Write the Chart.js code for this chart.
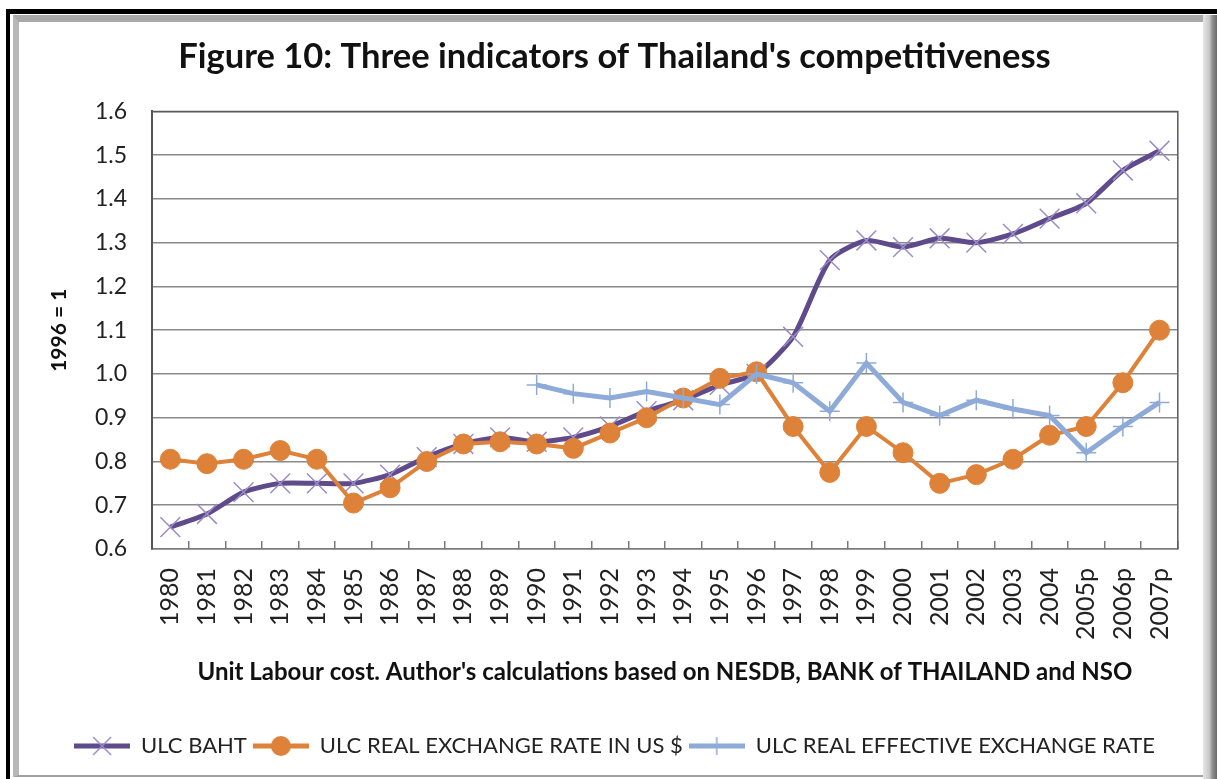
<!DOCTYPE html>
<html>
<head>
<meta charset="utf-8">
<script src="https://cdn.jsdelivr.net/npm/chart.js@4"></script>
<style>
html,body{margin:0;padding:0;background:#fff;width:1217px;height:779px;overflow:hidden;}
#frameBlack{position:absolute;left:6px;top:9px;width:1211px;height:770px;border-left:4px solid #000;border-top:5px solid #000;box-sizing:border-box;}
#bevel{position:absolute;left:13px;top:15px;width:1192px;height:762px;box-sizing:border-box;border-top:7px solid #a9a9a9;border-left:6px solid #b8b8b8;border-bottom:2px solid #a0a0a0;}
#rightStrip{position:absolute;left:1203px;top:15px;width:14px;height:764px;background:linear-gradient(to right,#e6e6e6 0%,#c8c8c8 45%,#8a8a8a 70%,#6a6a6a 100%);}
#wrap{position:absolute;left:0;top:0;width:1217px;height:779px;}
</style>
</head>
<body>
<div id="frameBlack"></div>
<div id="bevel"></div>
<div id="rightStrip"></div>
<div id="wrap"><canvas id="c" width="1217" height="779"></canvas></div>
<script>
const categories = ['1980','1981','1982','1983','1984','1985','1986','1987','1988','1989','1990','1991','1992','1993','1994','1995','1996','1997','1998','1999','2000','2001','2002','2003','2004','2005p','2006p','2007p'];
const ulcBaht = [0.65,0.68,0.73,0.75,0.75,0.75,0.77,0.81,0.84,0.855,0.845,0.855,0.88,0.915,0.94,0.975,1.0,1.085,1.26,1.305,1.29,1.31,1.30,1.32,1.355,1.39,1.465,1.51];
const ulcRealUsd = [0.805,0.795,0.805,0.825,0.805,0.705,0.74,0.80,0.84,0.845,0.84,0.83,0.865,0.90,0.945,0.99,1.005,0.88,0.775,0.88,0.82,0.75,0.77,0.805,0.86,0.88,0.98,1.10];
const ulcReer = [null,null,null,null,null,null,null,null,null,null,0.975,0.955,0.945,0.96,0.945,0.93,1.0,0.98,0.915,1.025,0.935,0.905,0.94,0.92,0.905,0.82,0.88,0.935];
const seriesNames = ['ULC BAHT','ULC REAL EXCHANGE RATE IN US $','ULC REAL EFFECTIVE EXCHANGE RATE'];
const yTicks = [0.6,0.7,0.8,0.9,1.0,1.1,1.2,1.3,1.4,1.5,1.6];
const titleText = "Figure 10: Three indicators of Thailand's competitiveness";
const xTitleText = "Unit Labour cost. Author's calculations based on NESDB, BANK of THAILAND and NSO";
const yTitleText = '1996 = 1';

const PURPLE = '#5f4a8b', PURPLE_M = '#9a8cc6';
const ORANGE = '#de8139';
const BLUE = '#8eaad8';
const FONT = 'Lato, "DejaVu Sans", sans-serif';

function legendImage(lineColor, lineW, style, markColor, r, mw){
  const cv = document.createElement('canvas');
  cv.width = 56; cv.height = 26;
  const g = cv.getContext('2d');
  g.strokeStyle = lineColor; g.lineWidth = lineW; g.lineCap='butt';
  g.beginPath(); g.moveTo(0,13); g.lineTo(56,13); g.stroke();
  g.strokeStyle = markColor; g.fillStyle = markColor; g.lineWidth = mw;
  if (style==='x'){ g.beginPath(); g.moveTo(28-r,13-r); g.lineTo(28+r,13+r); g.moveTo(28-r,13+r); g.lineTo(28+r,13-r); g.stroke(); }
  else if (style==='+'){ g.beginPath(); g.moveTo(28-r,13); g.lineTo(28+r,13); g.moveTo(28,13-r); g.lineTo(28,13+r); g.stroke(); }
  else { g.beginPath(); g.arc(28,13,r,0,Math.PI*2); g.fill(); }
  return cv;
}
const legendImgs = [
  legendImage(PURPLE,5,'x',PURPLE_M,9,1.5),
  legendImage(ORANGE,5,'o',ORANGE,10,1),
  legendImage(BLUE,5,'+',BLUE,9,1.5)
];

const plotBorder = {
  id:'plotBorder',
  beforeDatasetsDraw(chart){
    const {ctx, chartArea:a} = chart;
    ctx.save();
    ctx.strokeStyle = '#5a5a5a'; ctx.lineWidth = 1.5;
    ctx.beginPath();
    ctx.moveTo(a.left, a.top); ctx.lineTo(a.right, a.top); ctx.lineTo(a.right, a.bottom);
    ctx.stroke();
    ctx.restore();
  }
};

new Chart(document.getElementById('c'), {
  type:'line',
  data:{
    labels: categories,
    datasets:[
      {label:seriesNames[0], data:ulcBaht, borderColor:PURPLE, backgroundColor:PURPLE_M, borderWidth:5, tension:0.22,
       pointStyle:'crossRot', pointRadius:14, pointBorderColor:PURPLE_M, pointBorderWidth:1.5, pointHoverRadius:14, order:2},
      {label:seriesNames[1], data:ulcRealUsd, borderColor:ORANGE, backgroundColor:ORANGE, borderWidth:4, tension:0,
       pointStyle:'circle', pointRadius:10, pointBackgroundColor:ORANGE, pointBorderColor:ORANGE, pointBorderWidth:1, order:1},
      {label:seriesNames[2], data:ulcReer, borderColor:BLUE, backgroundColor:BLUE, borderWidth:5, tension:0,
       pointStyle:'cross', pointRadius:10, pointBorderColor:BLUE, pointBorderWidth:1.5, order:0, spanGaps:false}
    ]
  },
  options:{
    responsive:false, animation:false,
    layout:{padding:{left:40, right:28, top:0, bottom:12}},
    plugins:{
      tooltip:{enabled:false},
      title:{display:true, text:titleText, color:'#111', font:{family:FONT, size:34.5, weight:'bold'}, padding:{top:36, bottom:34}},
      legend:{
        display:true, position:'bottom',
        labels:{
          usePointStyle:true, pointStyleWidth:56, padding:6, color:'#222',
          font:{family:FONT, size:22},
          generateLabels(chart){
            return chart.data.datasets.map((d,i)=>({text:d.label, pointStyle:legendImgs[i], fillStyle:d.borderColor, strokeStyle:d.borderColor, lineWidth:0, hidden:false, datasetIndex:i, fontColor:'#222'}));
          }
        }
      }
    },
    scales:{
      x:{
        type:'category', offset:true,
        grid:{display:true, drawOnChartArea:false, offset:true, tickLength:-8, color:'#7a7a7a', lineWidth:1.5},
        border:{display:true, color:'#7a7a7a', width:1.5},
        ticks:{color:'#222', font:{family:FONT, size:25}, minRotation:90, maxRotation:90, padding:27, autoSkip:false},
        title:{display:true, text:xTitleText, color:'#111', font:{family:FONT, size:24, weight:'bold'}, padding:{top:0, bottom:42}},
        afterFit(s){ s.height = 180; }
      },
      y:{
        min:0.6, max:1.6,
        grid:{color:'#8a8a8a', lineWidth:1.5, drawTicks:false},
        border:{display:true, color:'#555', width:2},
        afterBuildTicks(s){ s.ticks = yTicks.map(v=>({value:v})); },
        ticks:{color:'#222', font:{family:FONT, size:23}, padding:25, callback:v=>Number(v).toFixed(1)},
        title:{display:true, text:yTitleText, color:'#111', font:{family:FONT, size:21, weight:'bold'}, padding:{top:7, bottom:0}},
        afterFit(s){ s.width = 112; }
      }
    }
  },
  plugins:[plotBorder]
});
</script>
</body>
</html>
